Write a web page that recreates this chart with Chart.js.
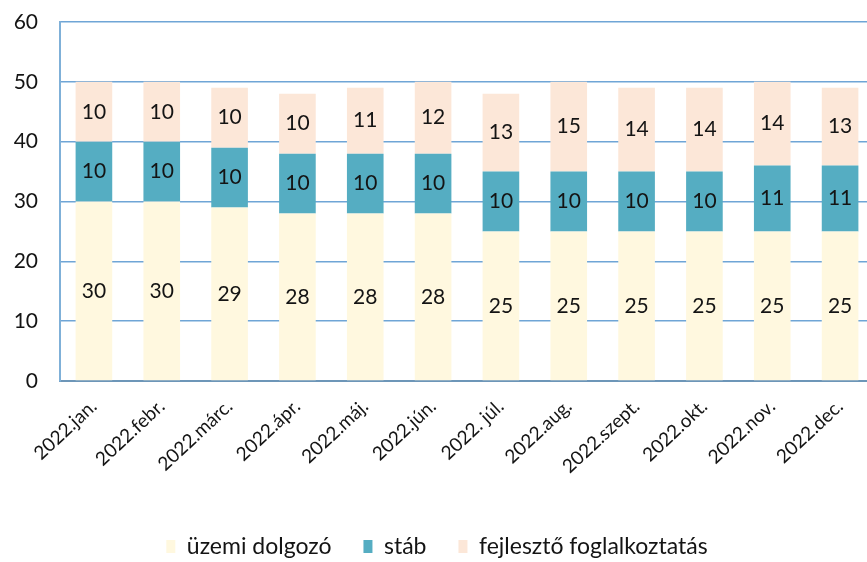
<!DOCTYPE html>
<html><head><meta charset="utf-8">
<script src="https://cdn.jsdelivr.net/npm/chart.js@4.4.0/dist/chart.umd.min.js"></script>
<style>html,body{margin:0;padding:0;background:#fff;overflow:hidden}#wrap{width:874px;height:562px;position:relative}</style>
</head><body><div id="wrap"><canvas id="c"></canvas></div>
<script>
const categories = ['2022.jan.','2022.febr.','2022.márc.','2022.ápr.','2022.máj.','2022.jún.','2022. júl.','2022.aug.','2022.szept.','2022.okt.','2022.nov.','2022.dec.'];
const uzemiDolgozo = [30,30,29,28,28,28,25,25,25,25,25,25];
const stab = [10,10,10,10,10,10,10,10,10,10,11,11];
const fejleszto = [10,10,10,10,11,12,13,15,14,14,14,13];
const yTicks = [0,10,20,30,40,50,60];

const FONT = 'Lato, "Open Sans", sans-serif';

const valueLabels = {
  id: 'valueLabels',
  afterDatasetsDraw(chart) {
    const ctx = chart.ctx;
    ctx.save();
    ctx.font = '21px ' + FONT;
    ctx.fillStyle = '#141414';
    ctx.textAlign = 'center';
    ctx.textBaseline = 'middle';
    chart.data.datasets.forEach((ds, i) => {
      const meta = chart.getDatasetMeta(i);
      meta.data.forEach((el, j) => {
        const p = el.getCenterPoint();
        ctx.fillText(String(ds.data[j]), p.x, p.y);
      });
    });
    ctx.restore();
  }
};

new Chart(document.getElementById('c'), {
  type: 'bar',
  data: {
    labels: categories,
    datasets: [
      {label: 'üzemi dolgozó', data: uzemiDolgozo, backgroundColor: '#fff8df'},
      {label: 'stáb', data: stab, backgroundColor: '#55adc2'},
      {label: 'fejlesztő foglalkoztatás', data: fejleszto, backgroundColor: '#fce7d8'}
    ]
  },
  options: {
    responsive: true,
    maintainAspectRatio: false,
    animation: false,
    layout: {padding: {top: 22, left: 0, right: 0, bottom: -6}},
    datasets: {bar: {barPercentage: 0.54, categoryPercentage: 1.0}},
    plugins: {
      tooltip: {enabled: false},
      legend: {
        position: 'bottom',
        labels: {
          font: {family: FONT, size: 23},
          color: '#141414',
          boxWidth: 9,
          boxHeight: 13,
          padding: 32
        }
      }
    },
    scales: {
      x: {
        stacked: true,
        grid: {display: false, drawTicks: false},
        border: {display: true, color: '#6d96b8', width: 2},
        ticks: {
          font: {family: FONT, size: 19},
          color: '#141414',
          minRotation: 43,
          maxRotation: 43,
          padding: 14
        },
        afterFit(scale) { scale.height = 122; }
      },
      y: {
        stacked: true,
        min: 0, max: 60,
        afterBuildTicks(scale) { scale.ticks = yTicks.map(v => ({value: v})); },
        grid: {color: '#6fa5d6', lineWidth: 1.5, drawTicks: false},
        border: {display: true, color: '#7fb0d8', width: 2},
        ticks: {
          font: {family: FONT, size: 21},
          color: '#141414',
          padding: 22
        },
        afterFit(scale) { scale.width = 60; scale.paddingTop = 0; scale.paddingBottom = 0; }
      }
    }
  },
  plugins: [valueLabels]
});
</script>
</body></html>
